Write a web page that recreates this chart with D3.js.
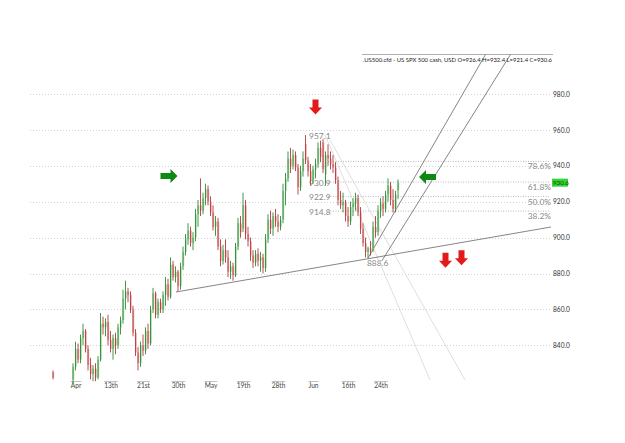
<!DOCTYPE html>
<html>
<head>
<meta charset="utf-8">
<script src="https://cdn.jsdelivr.net/npm/d3@7"></script>
<style>
  body { margin: 0; background: #fff; }
  text { font-family: Lato, "DejaVu Sans", sans-serif; }
</style>
</head>
<body>
<svg id="chart" width="625" height="443"></svg>
<script>
// bars (index 1..7 empty = gap)
const opens  = [825,null,null,null,null,null,null,null,821,828,838,832,844,848,838,829,824,827,822,832,852,850,853,843,838,844,840,850,854,866,870,868,860,847,836,830,840,837,848,841,860,869,857,864,860,868,874,867,885,878,881,873,884,892,899,904,897,900,913,918,915,922,927,920,914,906,909,895,887,893,889,881,884,879,895,908,905,918,902,898,890,886,891,887,889,883,899,910,905,912,909,906,910,926,933,944,940,946,939,928,937,952,943,937,932,938,941,950,953,935,946,944,941,939,932,921,918,920,912,909,917,919,922,914,905,897,892,894,893,906,903,915,919,916,924,929,921,916,926.4];
const highs  = [826,null,null,null,null,null,null,null,830,842,841,846,852,849,840,833,829,830,834,858,856,855,857,848,846,847,852,856,871,876,872,870,862,849,839,842,846,850,852,862,872,870,866,866,870,878,877,889,887,884,882,886,895,902,908,906,903,916,921,933,925,930,929,923,918,912,911,899,896,899,893,887,886,897,911,912,925,921,906,900,893,893,894,892,891,902,913,915,914,916,913,912,930,936,948,950,949,948,941,940,948,957.1,945,941,940,944,953,954,955,948,952,948,946,942,934,926,925,921,917,920,922,925,924,917,908,900,895,898,909,912,918,922,923,926,933,931,927,926,932.4];
const lows   = [821,null,null,null,null,null,null,null,819,826,830,830,840,836,826,821,820,820,821,831,846,845,840,836,832,835,838,846,852,860,864,858,845,834,826,828,834,835,838,840,858,855,855,858,858,862,865,866,876,875,870,871,882,890,896,895,893,898,906,912,913,918,918,912,904,901,893,884,885,886,878,877,876,878,893,900,903,899,895,887,883,884,884,881,880,881,897,902,901,906,903,904,908,918,931,936,938,937,924,926,934,941,934,929,930,933,939,942,936,929,940,938,936,930,918,916,914,909,906,907,912,915,912,902,895,889,888.6,890,892,900,901,911,912,914,920,918,914,914,921.4];
const closes = [822,null,null,null,null,null,null,null,828,838,832,844,848,838,829,824,827,822,832,852,850,853,843,838,844,840,850,854,866,870,868,860,847,836,830,840,837,848,841,860,869,857,864,860,868,874,867,885,878,881,873,884,892,899,904,897,900,913,918,915,922,927,920,914,906,909,895,887,893,889,881,884,879,895,908,903,918,902,898,890,886,891,887,889,883,899,910,905,912,909,906,910,926,933,944,940,946,939,928,937,944,943,937,932,938,941,950,945,938,946,944,941,939,932,921,918,920,912,909,917,919,922,914,905,897,892,894,893,906,903,915,919,916,924,929,921,916,924,930.6];

const yTicks = [840, 860, 880, 900, 920, 940, 960, 980];
const xTickIdx = [9, 23, 36, 50, 63, 76, 90, 104, 118, 131];
const xTickLabels = ["Apr", "13th", "21st", "30th", "May", "19th", "28th", "Jun", "16th", "24th"];

// fibonacci retracement between swing low and swing high
const swingLow = 888.6, swingHigh = 957.1;
const fibLevels = [0.786, 0.618, 0.5, 0.382];
const fibLabels = ["78.6%", "61.8%", "50.0%", "38.2%"];
const fibPrices = [930.9, 922.9, 914.8];

// drawn lines: [[index, price], [index, price]]
const supportLine = [[49.2, 869.7], [199.2, 905.9]];
const channelUpper = [[126, 888.6], [173, 1002]];
const channelLower = [[131.5, 887], [183, 1002]];
const fanA = [[108.8, 957.2], [150.8, 820.7]];
const fanB = [[110.8, 954.4], [164.8, 820.7]];

// arrows: [index, price of tail/top]
const redArrows = [[105, 977], [157, 891.5], [163.4, 893]];
const greenRight = [[43, 934.3]];
const greenLeft = [[146.4, 933.8]];

const title = ".US500.cfd - US SPX 500 cash, USD O=926.4 H=932.4 L=921.4 C=930.6";
const lastPrice = 930.6;

const svg = d3.select("#chart");
const x = d3.scaleLinear().domain([0, 138]).range([53, 398]);
const y = d3.scaleLinear().domain([840, 980]).range([345.3, 94]);

// grid
svg.append("g").selectAll("line").data(yTicks).join("line")
  .attr("x1", 30).attr("x2", 550)
  .attr("y1", d => Math.round(y(d)) + 0.5).attr("y2", d => Math.round(y(d)) + 0.5)
  .attr("stroke", "#c8c8c8").attr("stroke-width", 0.8).attr("stroke-dasharray", "1,2");

// y axis
const yAxis = svg.append("g").attr("transform", "translate(551,0)")
  .call(d3.axisRight(y).tickValues(yTicks).tickFormat(d3.format(".1f")).tickSize(0).tickPadding(2));
yAxis.select(".domain").remove();
yAxis.selectAll("text").attr("font-size", 6.6).attr("fill", "#333");

// x axis
const xAxis = svg.append("g").attr("transform", "translate(0,381)")
  .call(d3.axisBottom(x).tickValues(xTickIdx).tickFormat((d, i) => xTickLabels[i]).tickSize(0).tickPadding(2));
xAxis.select(".domain").remove();
xAxis.selectAll("text").attr("font-size", 6.6).attr("fill", "#444");
xAxis.selectAll(".tick").each(function () {
  const t = d3.select(this).select("text");
  const w = t.node().getComputedTextLength();
  d3.select(this).append("line").attr("x1", -w / 2).attr("x2", w / 2)
    .attr("y1", 0.5).attr("y2", 0.5).attr("stroke", "#999").attr("stroke-width", 0.6);
});

// fib lines and labels
const fibStart = 110;
fibLevels.forEach((f, k) => {
  const p = swingLow + f * (swingHigh - swingLow);
  svg.append("line")
    .attr("x1", x(fibStart)).attr("x2", 550)
    .attr("y1", y(p)).attr("y2", y(p))
    .attr("stroke", "#999").attr("stroke-width", 0.7).attr("stroke-dasharray", "1,1.5");
  svg.append("text").attr("x", 551).attr("y", y(p) + 8)
    .attr("text-anchor", "end").attr("font-size", 8.4).attr("fill", "#8a8a8a")
    .text(fibLabels[k]);
});
[swingHigh].concat(fibPrices).forEach(p => {
  svg.append("text").attr("x", x(111)).attr("y", y(p) + 3.5)
    .attr("text-anchor", "end").attr("font-size", 8.4).attr("fill", "#888")
    .text(p.toFixed(1));
});
svg.append("text").attr("x", x(126) - 1).attr("y", y(swingLow) + 8)
  .attr("font-size", 8.4).attr("fill", "#888").text(swingLow.toFixed(1));

// drawn lines
const lineGen = d3.line().x(d => x(d[0])).y(d => y(d[1]));
[fanA, fanB].forEach(l => svg.append("path").attr("d", lineGen(l))
  .attr("stroke", "#d0d0d0").attr("stroke-width", 0.7).attr("fill", "none"));
[supportLine, channelUpper, channelLower].forEach(l => svg.append("path").attr("d", lineGen(l))
  .attr("stroke", "#666").attr("stroke-width", 0.8).attr("fill", "none"));

// candles
const bars = d3.range(opens.length).filter(i => opens[i] !== null).map(i => ({
  i, o: opens[i], h: highs[i], l: lows[i], c: closes[i]
}));
const g = svg.append("g");
g.selectAll("rect").data(bars).join("rect")
  .attr("x", d => x(d.i) - 0.6)
  .attr("y", d => y(Math.max(d.o, d.c)))
  .attr("width", 1.8)
  .attr("height", d => Math.max(1, Math.abs(y(d.o) - y(d.c))))
  .attr("fill", d => d.c >= d.o ? "#9fd49f" : "#eca3a3");
g.selectAll("line").data(bars).join("line")
  .attr("x1", d => x(d.i)).attr("x2", d => x(d.i))
  .attr("y1", d => y(d.h)).attr("y2", d => y(d.l))
  .attr("stroke", d => d.c >= d.o ? "#2f8a35" : "#b33a3a")
  .attr("stroke-width", 0.9);

// arrows
function downArrow(d) {
  const cx = x(d[0]), top = y(d[1]);
  return `M${cx - 3},${top} h6 v8 h3.5 L${cx},${top + 15} L${cx - 6.5},${top + 8} h3.5 Z`;
}
function horizArrow(d, dir) {
  const left = x(d[0]), cy = y(d[1]);
  if (dir > 0)
    return `M${left},${cy - 3} h10 v-4 L${left + 17},${cy} L${left + 10},${cy + 7} v-4 h-10 Z`;
  return `M${left + 17},${cy - 3} h-10 v-4 L${left},${cy} L${left + 7},${cy + 7} v-4 h10 Z`;
}
svg.selectAll(".red").data(redArrows).join("path").attr("class", "red")
  .attr("d", d => downArrow(d)).attr("fill", "#e21a1a");
svg.selectAll(".gr").data(greenRight).join("path").attr("class", "gr")
  .attr("d", d => horizArrow(d, 1)).attr("fill", "#0c8a12");
svg.selectAll(".gl").data(greenLeft).join("path").attr("class", "gl")
  .attr("d", d => horizArrow(d, -1)).attr("fill", "#0c8a12");

// last price tag
svg.append("rect").attr("x", 552).attr("y", y(lastPrice) - 4).attr("width", 16).attr("height", 8)
  .attr("fill", "#35d435");
svg.append("text").attr("x", 553).attr("y", y(lastPrice) + 2.3)
  .attr("font-size", 6.2).attr("fill", "#064d06").text(lastPrice.toFixed(1));

// title
svg.append("line").attr("x1", 362).attr("x2", 553).attr("y1", 54.5).attr("y2", 54.5)
  .attr("stroke", "#777").attr("stroke-width", 0.6);
svg.append("text").attr("x", 363).attr("y", 61.5).attr("font-size", 5.9).attr("fill", "#222")
  .attr("textLength", 189).attr("lengthAdjust", "spacingAndGlyphs")
  .text(title);
</script>
</body>
</html>
